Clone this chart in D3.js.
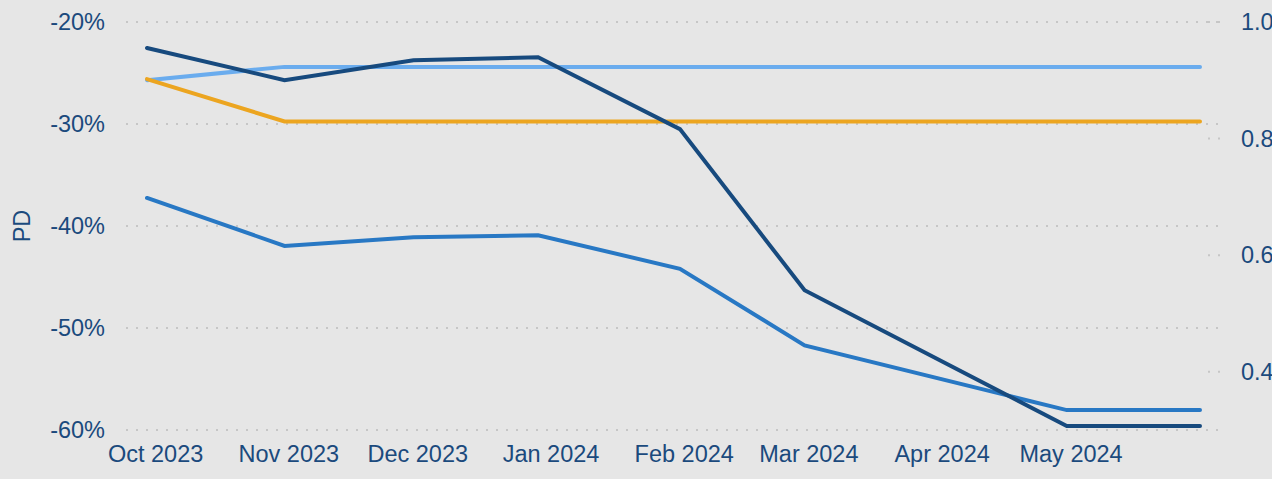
<!DOCTYPE html>
<html>
<head>
<meta charset="utf-8">
<script src="https://cdn.jsdelivr.net/npm/d3@7"></script>
<style>
  html, body { margin: 0; padding: 0; background: #e6e6e6; }
  svg { display: block; font-family: "Liberation Sans", Arial, sans-serif; }
  .lbl { fill: #1b4a7d; font-size: 23.5px; }
</style>
</head>
<body>
<div id="chart"></div>
<script>
// month-end observation dates
const dates = ['2023-09-29', '2023-10-31', '2023-11-30', '2023-12-29', '2024-01-31', '2024-02-29', '2024-04-30', '2024-05-31']
// PD series, percent
const navySeries   = [-22.55, -25.7, -23.75, -23.45, -30.5, -46.3, -59.6, -59.6]
const blueSeries   = [-37.25, -41.95, -41.1, -40.9, -44.2, -51.7, -58.05, -58.05]
const lightSeries  = [-25.7, -24.4, -24.4, -24.4, -24.4, -24.4, -24.4, -24.4]
const orangeSeries = [-25.6, -29.75, -29.75, -29.75, -29.75, -29.75, -29.75, -29.75]
const monthTicks = ['2023-10-01', '2023-11-01', '2023-12-01', '2024-01-01', '2024-02-01', '2024-03-01', '2024-04-01', '2024-05-01']
const leftTicks = [-20, -30, -40, -50, -60]
const rightTicks = [1.0, 0.8, 0.6, 0.4]

const width = 1272, height = 479
const parse = d3.timeParse('%Y-%m-%d')
const fmtMonth = d3.timeFormat('%b %Y')

const svg = d3.select('#chart').append('svg')
    .attr('width', width)
    .attr('height', height)

svg.append('rect').attr('width', width).attr('height', height).attr('fill', '#e6e6e6')

// scales
const x = d3.scaleTime()
    .domain([parse(dates[0]), parse(dates[dates.length - 1])])
    .range([147, 1200])
const y = d3.scaleLinear().domain([-60, -20]).range([430, 22])
const y2 = d3.scaleLinear().domain([0.3, 1.0]).range([430, 22])

// grid lines (dotted)
svg.append('g').selectAll('line').data(leftTicks).enter().append('line')
    .attr('x1', 126).attr('x2', 1219)
    .attr('y1', d => y(d)).attr('y2', d => y(d))
    .attr('stroke', '#c6c6c6').attr('stroke-width', 2)
    .attr('stroke-dasharray', '2,8')

svg.append('g').selectAll('line').data(rightTicks).enter().append('line')
    .attr('x1', 1208).attr('x2', 1222)
    .attr('y1', d => y2(d)).attr('y2', d => y2(d))
    .attr('stroke', '#c6c6c6').attr('stroke-width', 2)
    .attr('stroke-dasharray', '2,8')

// left axis labels
svg.append('g').selectAll('text').data(leftTicks).enter().append('text')
    .attr('class', 'lbl')
    .attr('x', 105).attr('y', d => y(d))
    .attr('dy', '0.35em')
    .attr('text-anchor', 'end')
    .text(d => d + '%')

// right axis labels
svg.append('g').selectAll('text').data(rightTicks).enter().append('text')
    .attr('class', 'lbl')
    .attr('x', 1241).attr('y', d => y2(d))
    .attr('dy', '0.35em')
    .text(d => d.toFixed(1))

// x axis labels
svg.append('g').selectAll('text').data(monthTicks).enter().append('text')
    .attr('class', 'lbl')
    .attr('x', d => x(parse(d))).attr('y', 462)
    .attr('text-anchor', 'middle')
    .text(d => fmtMonth(parse(d)))

// axis title
svg.append('text')
    .attr('class', 'lbl')
    .attr('transform', 'translate(30,226) rotate(-90)')
    .attr('text-anchor', 'middle')
    .text('PD')

// lines
const line = d3.line()
    .x((d, i) => x(parse(dates[i])))
    .y(d => y(d))

const series = [
  { values: lightSeries, color: '#6aacee' },
  { values: orangeSeries, color: '#eca520' },
  { values: blueSeries, color: '#2878c4' },
  { values: navySeries, color: '#174a7e' }
]

svg.append('g').selectAll('path').data(series).enter().append('path')
    .attr('d', d => line(d.values))
    .attr('fill', 'none')
    .attr('stroke', d => d.color)
    .attr('stroke-width', 4)
    .attr('stroke-linecap', 'round')
</script>
</body>
</html>
